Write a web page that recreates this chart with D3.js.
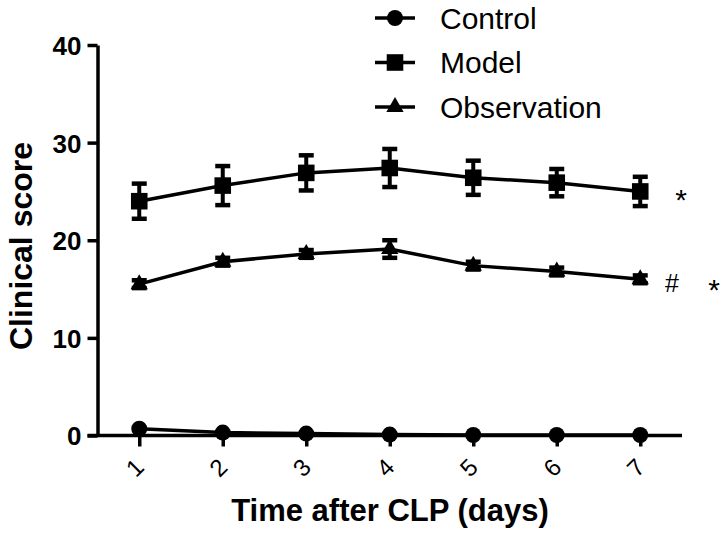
<!DOCTYPE html>
<html>
<head>
<meta charset="utf-8">
<script src="https://cdn.jsdelivr.net/npm/d3@7"></script>
<style>
  html, body { margin: 0; padding: 0; background: #fff; }
  svg { display: block; }
  text { font-family: "Liberation Sans", Arial, sans-serif; fill: #000; }
</style>
</head>
<body>
<svg id="chart" width="725" height="533"></svg>
<script>
// ---- data ----
const days = [1, 2, 3, 4, 5, 6, 7];
const controlValues = [0.7, 0.3, 0.2, 0.1, 0.05, 0.05, 0.05];
const controlErr    = [0, 0, 0, 0, 0, 0, 0];
const modelValues   = [24.0, 25.6, 26.9, 27.4, 26.4, 25.9, 25.0];
const modelErr      = [1.8, 2.0, 1.8, 1.95, 1.75, 1.4, 1.5];
const obsValues     = [15.5, 17.8, 18.6, 19.1, 17.4, 16.8, 16.0];
const obsErr        = [0.4, 0.4, 0.4, 0.9, 0.4, 0.4, 0.4];
const seriesNames   = ["Control", "Model", "Observation"];
const yTicks        = [0, 10, 20, 30, 40];
const xTitle        = "Time after CLP (days)";
const yTitle        = "Clinical score";
const modelMark     = "*";
const obsMarks      = ["#", "*"];

const series = [
  { name: seriesNames[0], values: controlValues, err: controlErr, symbol: d3.symbolCircle, size: 200 },
  { name: seriesNames[1], values: modelValues, err: modelErr, symbol: d3.symbolSquare, size: 275 },
  { name: seriesNames[2], values: obsValues, err: obsErr, symbol: d3.symbolTriangle, size: 130 }
];

const svg = d3.select("#chart");
const x = d3.scaleLinear().domain([0.5, 7.5]).range([97.5, 682]);
const y = d3.scaleLinear().domain([0, 40]).range([435.5, 45]);

// axes
const yAxis = svg.append("g").attr("transform", `translate(${x(0.5)},0)`)
  .call(d3.axisLeft(y).tickValues(yTicks).tickSize(10).tickPadding(6).tickSizeOuter(0));
yAxis.select(".domain").attr("stroke", "#000").attr("stroke-width", 3.5);
yAxis.selectAll(".tick line").attr("stroke", "#000").attr("stroke-width", 3.5);
yAxis.selectAll(".tick text")
  .style("font-family", '"Liberation Sans", Arial, sans-serif')
  .style("font-weight", "bold").style("font-size", "26px").attr("dy", "0.36em");

const xAxis = svg.append("g").attr("transform", `translate(0,${y(0)})`)
  .call(d3.axisBottom(x).tickValues(days).tickSize(11).tickSizeOuter(0).tickFormat(d3.format("d")));
xAxis.select(".domain").attr("stroke", "#000").attr("stroke-width", 3.5)
  .attr("d", `M${x(0.5) - 10},0H${x(7.5)}`);
xAxis.selectAll(".tick line").attr("stroke", "#000").attr("stroke-width", 3.5);
xAxis.selectAll(".tick text")
  .style("font-family", '"Liberation Sans", Arial, sans-serif')
  .style("font-size", "24px")
  .attr("text-anchor", "middle")
  .attr("y", 0).attr("dy", "0.35em")
  .attr("transform", "translate(-5,32) rotate(-45)");

// titles
svg.append("text").attr("x", 390).attr("y", 521).attr("text-anchor", "middle")
  .style("font-weight", "bold").style("font-size", "31px").text(xTitle);
svg.append("text").attr("transform", "translate(32,246) rotate(-90)").attr("text-anchor", "middle")
  .style("font-weight", "bold").style("font-size", "32px").text(yTitle);

// series
const line = d3.line().x((d, i) => x(days[i])).y(d => y(d));
const plot = svg.append("g");
series.forEach(s => {
  plot.append("path").datum(s.values).attr("d", line)
    .attr("fill", "none").attr("stroke", "#000").attr("stroke-width", 3.5);
  const g = plot.append("g");
  s.values.forEach((v, i) => {
    const cx = x(days[i]);
    if (s.err[i] > 0) {
      const yt = y(v + s.err[i]), yb = y(v - s.err[i]);
      g.append("line").attr("x1", cx).attr("x2", cx).attr("y1", yt).attr("y2", yb)
        .attr("stroke", "#000").attr("stroke-width", 4);
      [yt, yb].forEach(yy => g.append("line").attr("x1", cx - 7.5).attr("x2", cx + 7.5)
        .attr("y1", yy).attr("y2", yy).attr("stroke", "#000").attr("stroke-width", 4.5));
    }
    g.append("path").attr("d", d3.symbol(s.symbol, s.size)())
      .attr("transform", `translate(${cx},${y(v)})`).attr("fill", "#000");
  });
});

// significance marks
svg.append("text").attr("x", 681).attr("y", y(modelValues[6]) + 18.5).attr("text-anchor", "middle")
  .style("font-size", "30px").text(modelMark);
svg.append("text").attr("x", 672).attr("y", y(obsValues[6]) + 13).attr("text-anchor", "middle")
  .style("font-size", "25px").text(obsMarks[0]);
svg.append("text").attr("x", 714).attr("y", y(obsValues[6]) + 21).attr("text-anchor", "middle")
  .style("font-size", "30px").text(obsMarks[1]);

// legend
const legend = svg.append("g");
series.forEach((s, i) => {
  const cy = 18 + i * 44.5;
  legend.append("line").attr("x1", 375).attr("x2", 415).attr("y1", cy).attr("y2", cy)
    .attr("stroke", "#000").attr("stroke-width", 3.5);
  legend.append("path").attr("d", d3.symbol(s.symbol, s.size)())
    .attr("transform", `translate(395,${cy})`).attr("fill", "#000");
  legend.append("text").attr("x", 440).attr("y", cy + 10.5)
    .style("font-size", "30px").text(s.name);
});
</script>
</body>
</html>
